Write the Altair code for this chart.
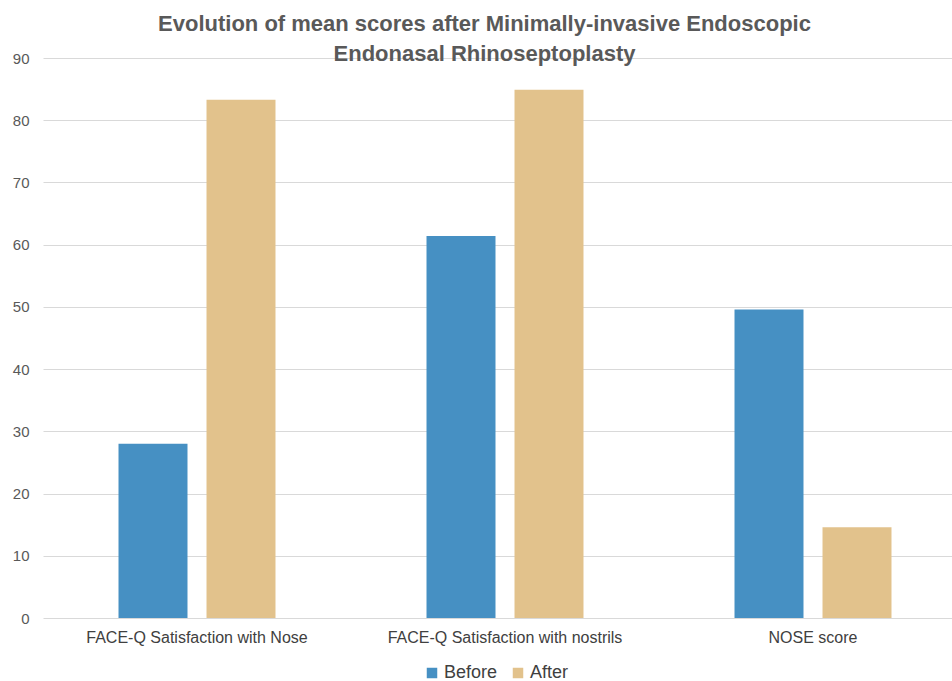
import altair as alt
import pandas as pd

categories = ["FACE-Q Satisfaction with Nose", "FACE-Q Satisfaction with nostrils", "NOSE score"]
before_values = [28.0, 61.4, 49.6]
after_values = [83.3, 84.9, 14.6]
series = ["Before", "After"]
series_colors = ["#4690C3", "#E2C28C"]
y_ticks = [0, 10, 20, 30, 40, 50, 60, 70, 80, 90]
title_lines = ["Evolution of mean scores after Minimally-invasive Endoscopic",
               "Endonasal Rhinoseptoplasty"]

rows = []
for c, b, a in zip(categories, before_values, after_values):
    rows.append({"category": c, "series": "Before", "value": b})
    rows.append({"category": c, "series": "After", "value": a})
df = pd.DataFrame(rows)

FONT = "Liberation Sans"

chart = alt.Chart(df).mark_bar().encode(
    x=alt.X("category:N", sort=categories,
            scale=alt.Scale(range=[0, 924], paddingInner=0, paddingOuter=0),
            axis=alt.Axis(title=None, labelAngle=0, labelFontSize=16, labelColor="#404040",
                          labelFont=FONT, labelPadding=11, labelLimit=0, ticks=False,
                          domain=False, grid=False)),
    xOffset=alt.XOffset("series:N", sort=series,
                        scale=alt.Scale(paddingInner=0.216, paddingOuter=0.858)),
    y=alt.Y("value:Q", scale=alt.Scale(domain=[0, 90], nice=False),
            axis=alt.Axis(title=None, values=y_ticks, labelFontSize=15, labelColor="#595959",
                          labelFont=FONT, labelPadding=14, ticks=False, domain=False,
                          grid=True, gridColor="#D9D9D9", gridWidth=1)),
    color=alt.Color("series:N", sort=series,
                    scale=alt.Scale(domain=series, range=series_colors),
                    legend=alt.Legend(title=None, orient="none", direction="horizontal",
                                      legendX=380, legendY=606, symbolType="square",
                                      symbolSize=110, symbolStrokeWidth=0, labelFontSize=18,
                                      labelColor="#404040", labelFont=FONT, columnPadding=11,
                                      labelOffset=3, padding=0)),
).properties(
    width=909,
    height=560,
    title=alt.TitleParams(text=title_lines, fontSize=22, font=FONT, fontWeight="bold",
                          color="#595959", anchor="middle", dx=-13, lineHeight=30, offset=-15),
    autosize=alt.AutoSizeParams(type="none"),
    padding={"left": 43, "top": 58, "right": 0, "bottom": 63},
    background="white",
).configure_view(stroke=None)

chart.save("out.html", embed_options={"renderer": "svg", "actions": False})
